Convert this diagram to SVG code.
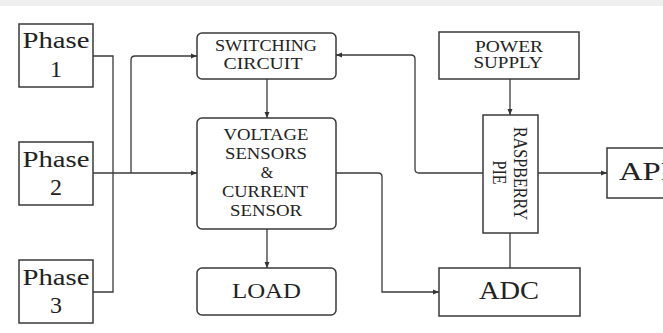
<svg xmlns="http://www.w3.org/2000/svg" width="663" height="333" viewBox="0 0 663 333">
<style>
.box{fill:#fff;stroke:#3a3a3a;stroke-width:1.5}
.ln{fill:none;stroke:#3a3a3a;stroke-width:1.3}
text{font-family:"Liberation Serif","Times New Roman",serif;fill:#222;text-anchor:middle}
.ph{font-size:24px}
.sm{font-size:16px}
.lg{font-size:25px}
</style>
<defs>
<marker id="ar" markerUnits="userSpaceOnUse" markerWidth="7" markerHeight="6" refX="6" refY="3" orient="auto">
<path d="M0,0.5 L6,3 L0,5.5 z" fill="#333"/>
</marker>
</defs>
<rect x="0" y="0" width="663" height="333" fill="#fff"/>
<rect x="0" y="0" width="663" height="6" fill="#efefef"/>

<g id="phase1">
<rect class="box" x="19" y="24" width="74" height="63"/>
<text class="ph" x="56" y="48" textLength="67" lengthAdjust="spacingAndGlyphs">Phase</text>
<text class="ph" x="56" y="77">1</text>
</g>
<g id="phase2">
<rect class="box" x="19" y="142" width="74" height="63"/>
<text class="ph" x="56" y="167" textLength="67" lengthAdjust="spacingAndGlyphs">Phase</text>
<text class="ph" x="56" y="195">2</text>
</g>
<g id="phase3">
<rect class="box" x="19" y="260" width="74" height="63"/>
<text class="ph" x="56" y="285" textLength="67" lengthAdjust="spacingAndGlyphs">Phase</text>
<text class="ph" x="56" y="313">3</text>
</g>

<g id="switching">
<rect class="box" x="197" y="33" width="139" height="46" rx="5"/>
<text class="sm" x="266" y="51" textLength="102" lengthAdjust="spacingAndGlyphs">SWITCHING</text>
<text class="sm" x="263" y="69" textLength="79" lengthAdjust="spacingAndGlyphs">CIRCUIT</text>
</g>
<g id="sensors">
<rect class="box" x="197" y="118" width="139" height="111" rx="5"/>
<text class="sm" x="266" y="140" textLength="85" lengthAdjust="spacingAndGlyphs">VOLTAGE</text>
<text class="sm" x="266" y="159" textLength="82" lengthAdjust="spacingAndGlyphs">SENSORS</text>
<text class="sm" x="267" y="178">&amp;</text>
<text class="sm" x="265" y="197" textLength="86" lengthAdjust="spacingAndGlyphs">CURRENT</text>
<text class="sm" x="266" y="216" textLength="72" lengthAdjust="spacingAndGlyphs">SENSOR</text>
</g>
<g id="load">
<rect class="box" x="197" y="268" width="139" height="47" rx="5"/>
<text x="266.5" y="298" style="font-size:22px" textLength="69" lengthAdjust="spacingAndGlyphs">LOAD</text>
</g>
<g id="power">
<rect class="box" x="439" y="32" width="140" height="47"/>
<text class="sm" x="509" y="52" textLength="68" lengthAdjust="spacingAndGlyphs">POWER</text>
<text class="sm" x="508" y="68" textLength="69" lengthAdjust="spacingAndGlyphs">SUPPLY</text>
</g>
<g id="raspberry">
<rect class="box" x="483" y="115" width="55" height="118"/>
<text class="sm" transform="translate(514,173.5) scale(1.2,1) rotate(90)" textLength="93" lengthAdjust="spacingAndGlyphs">RASPBERRY</text>
<text class="sm" transform="translate(493,172.5) scale(1.2,1) rotate(90)">PIE</text>
</g>
<g id="adc">
<rect class="box" x="439" y="268" width="141" height="48"/>
<text class="lg" x="509" y="299" textLength="60" lengthAdjust="spacingAndGlyphs">ADC</text>
</g>
<g id="app">
<rect class="box" x="607" y="148" width="70" height="50"/>
<text class="lg" x="619" y="180" style="text-anchor:start" textLength="60" lengthAdjust="spacingAndGlyphs">APP</text>
</g>

<g id="connectors">
<path class="ln" d="M93,56 H113 V292 H93"/>
<path class="ln" d="M93,173 H197" marker-end="url(#ar)"/>
<path class="ln" d="M131,173 V60 Q131,56 135,56 H197" marker-end="url(#ar)"/>
<path class="ln" d="M267,79 V118" marker-end="url(#ar)"/>
<path class="ln" d="M267,229 V268" marker-end="url(#ar)"/>
<path class="ln" d="M336,173 H378 Q382,173 382,177 V292 H439" marker-end="url(#ar)"/>
<path class="ln" d="M483,173 H419 Q415,173 415,169 V59 Q415,55 411,55 H336" marker-end="url(#ar)"/>
<path class="ln" d="M510,79 V115" marker-end="url(#ar)"/>
<path class="ln" d="M510,233 V268"/>
<path class="ln" d="M538,173 H607" marker-end="url(#ar)"/>
</g>
</svg>
